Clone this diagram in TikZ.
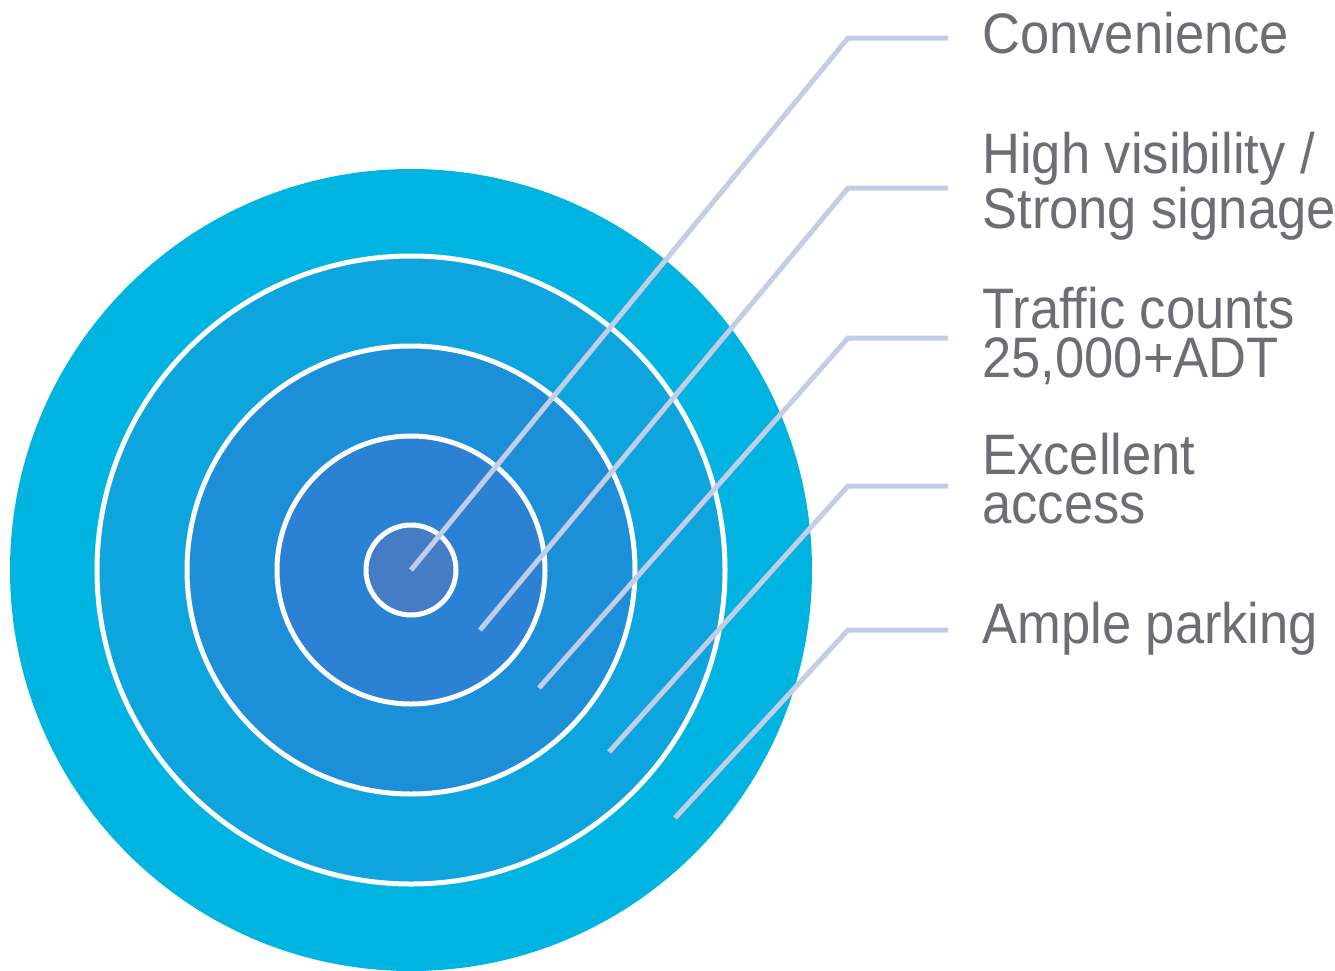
\documentclass[tikz,border=0pt]{standalone}
\usepackage{fontspec}
\setmainfont[FakeStretch=0.92]{Liberation Sans}
\usetikzlibrary{positioning}
\definecolor{ring_out}{RGB}{0,180,225}
\definecolor{ring_b}{RGB}{14,164,221}
\definecolor{ring_c}{RGB}{27,143,216}
\definecolor{ring_d}{RGB}{43,130,212}
\definecolor{ring_in}{RGB}{69,124,198}
\definecolor{lead_gray}{RGB}{195,205,230}
\definecolor{text_gray}{RGB}{109,110,115}

\begin{document}
\begin{tikzpicture}[x=0.02cm,y=-0.02cm]
    \tikzstyle{ring}=[draw=white, line width=0.1cm]
    \tikzstyle{lead}=[draw=lead_gray, line width=0.1cm]
    \tikzstyle{lbl}=[anchor=base west, inner sep=0pt, align=left, text=text_gray,
                     font=\fontsize{32.5}{27.8}\selectfont]

    \useasboundingbox (0,0) rectangle (1335,970);

    \coordinate (o) at (411,570);
    \fill[ring_out] (o) circle (401);
    \filldraw[ring, fill=ring_b]  (o) circle (314);
    \filldraw[ring, fill=ring_c]  (o) circle (224);
    \filldraw[ring, fill=ring_d]  (o) circle (134);
    \filldraw[ring, fill=ring_in] (o) circle (45);

    % base west sits on the last line of a label
    \node[lbl] (conv)    at (982,53)  {Convenience};
    \node[lbl] (vis)     at (982,228) {High visibility /\\Strong signage};
    \node[lbl] (traffic) at (982,377) {Traffic counts\\25,000+ADT};
    \node[lbl] (access)  at (982,523) {Excellent\\access};
    \node[lbl] (park)    at (982,643) {Ample parking};

    \coordinate (s1) at (411,570);  \coordinate (k1) at (848,38);  \coordinate (e1) at (948,38);
    \coordinate (s2) at (480,630);  \coordinate (k2) at (848,188); \coordinate (e2) at (948,188);
    \coordinate (s3) at (539,688);  \coordinate (k3) at (848,338); \coordinate (e3) at (948,338);
    \coordinate (s4) at (609,752);  \coordinate (k4) at (848,486); \coordinate (e4) at (948,486);
    \coordinate (s5) at (675,818);  \coordinate (k5) at (848,630); \coordinate (e5) at (948,630);

    \foreach \i in {1,...,5}
      \draw[lead] (s\i) -- (k\i) -- (e\i);
\end{tikzpicture}
\end{document}
